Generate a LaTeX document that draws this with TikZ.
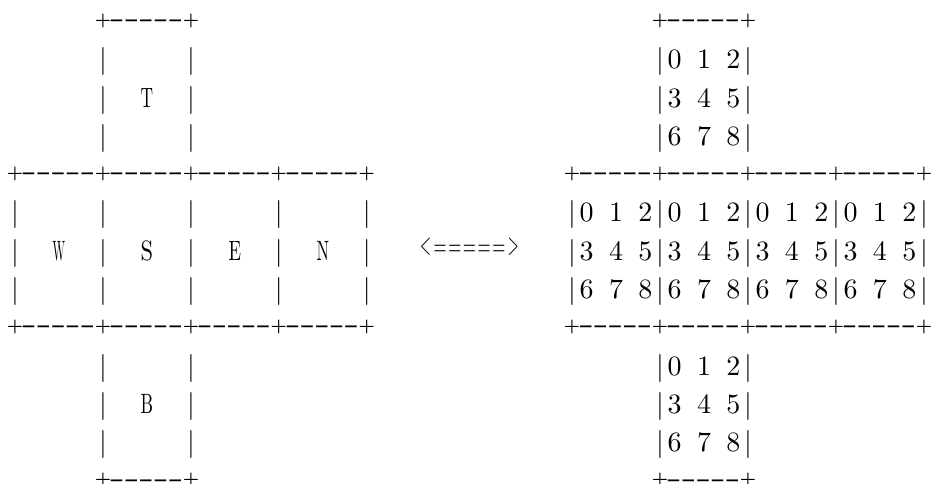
\documentclass[tikz,border=0pt]{standalone}
\usepackage{graphicx}
\usepackage{fontspec}
\setmainfont{lmroman10-regular}[Extension=.otf, BoldFont=lmroman10-bold]
\makeatletter
\newcount\colc
\def\CPlus{+}\def\CDash{-}\def\CEq{=}\def\CLt{<}\def\CGt{>}\def\CDot{.}
\newcommand\plgl{\raisebox{5.4pt}{\scalebox{0.65}{\bfseries +}}}
\newcommand\dashgl{\raisebox{3.0pt}{\scalebox{1.55}[1.1]{-}}}
\newcommand\eqgl{\raisebox{4.6pt}{\scalebox{0.6}[1]{=}}}
\newcommand\ltgl{\raisebox{6.3pt}{\scalebox{0.5}[1.1]{<}}}
\newcommand\gtgl{\raisebox{6.3pt}{\scalebox{0.5}[1.1]{>}}}
\newcommand\letgl[1]{\resizebox{12.5pt}{\height}{#1}}
\newcommand\glyphgl[1]{%
  \ifx#1\CPlus \plgl\else
  \ifx#1\CDash \dashgl\else
  \ifx#1\CEq \eqgl\else
  \ifx#1\CLt \ltgl\else
  \ifx#1\CGt \gtgl\else
  \ifcat a#1\letgl{#1}\else #1\fi\fi\fi\fi\fi\fi}
\newcommand\seggl[3]{%
  \colc=#2\relax
  \@tfor\tok:=#3\do{%
    \ifx\tok\CDot\else
      \edef\nm{c-#1-\the\colc}%
      \node[chr,name=\nm] at ({15+14.66*\the\colc},{30.5+38.3*#1}) {\glyphgl\tok};%
    \fi
    \advance\colc by 1\relax}}
\makeatother
\tikzset{chr/.style={inner sep=0pt, outer sep=0pt, anchor=base, font=\fontsize{28}{34}\selectfont}}
\begin{document}
\begin{tikzpicture}[x=1pt,y=-1pt]
\useasboundingbox (0,0) rectangle (932,484);
\seggl{0}{6}{+-----+}\seggl{0}{44}{+-----+}
\seggl{1}{6}{|.....|}\seggl{1}{44}{|0.1.2|}
\seggl{2}{6}{|..T..|}\seggl{2}{44}{|3.4.5|}
\seggl{3}{6}{|.....|}\seggl{3}{44}{|6.7.8|}
\seggl{4}{0}{+-----+-----+-----+-----+}\seggl{4}{38}{+-----+-----+-----+-----+}
\seggl{5}{0}{|.....|.....|.....|.....|}\seggl{5}{38}{|0.1.2|0.1.2|0.1.2|0.1.2|}
\seggl{6}{0}{|..W..|..S..|..E..|..N..|}\seggl{6}{28}{<=====>}\seggl{6}{38}{|3.4.5|3.4.5|3.4.5|3.4.5|}
\seggl{7}{0}{|.....|.....|.....|.....|}\seggl{7}{38}{|6.7.8|6.7.8|6.7.8|6.7.8|}
\seggl{8}{0}{+-----+-----+-----+-----+}\seggl{8}{38}{+-----+-----+-----+-----+}
\seggl{9}{6}{|.....|}\seggl{9}{44}{|0.1.2|}
\seggl{10}{6}{|..B..|}\seggl{10}{44}{|3.4.5|}
\seggl{11}{6}{|.....|}\seggl{11}{44}{|6.7.8|}
\seggl{12}{6}{+-----+}\seggl{12}{44}{+-----+}
\end{tikzpicture}
\end{document}
